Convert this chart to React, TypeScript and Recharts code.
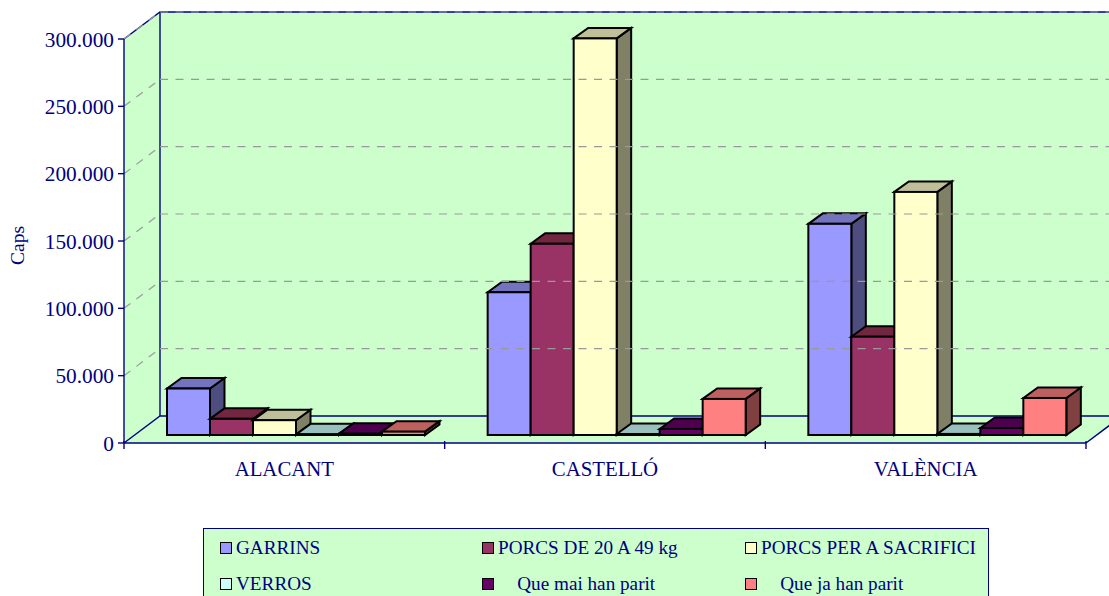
import React from 'react';
import { BarChart, Bar, XAxis, YAxis, Legend, ReferenceArea, ReferenceLine } from 'recharts';

const categories = ['ALACANT', 'CASTELLÓ', 'VALÈNCIA'];
const garrins = [34500, 106000, 156800];
const porcs2049 = [12000, 142000, 73000];
const sacrifici = [11000, 294500, 180500];
const verros = [500, 700, 800];
const queMai = [1000, 4500, 5200];
const queJa = [2500, 26800, 27500];
const yTicks = [0, 50000, 100000, 150000, 200000, 250000, 300000];

const seriesNames = ['GARRINS', 'PORCS DE 20 A 49 kg', 'PORCS PER A SACRIFICI', 'VERROS', '    Que mai han parit', '    Que ja han parit'];
const seriesValues = [garrins, porcs2049, sacrifici, verros, queMai, queJa];
const seriesColors = ['#9999FF', '#993366', '#FFFFCC', '#CCFFFF', '#660066', '#FF8080'];
const topColors = ['#7373BF', '#732640', '#BFBF99', '#99BFBF', '#4D004D', '#BF6060'];
const sideColors = ['#4D4D80', '#4D1A33', '#808066', '#668080', '#330033', '#804040'];

const data = categories.map((name, i) => {
  const row: Record<string, string | number> = { name };
  seriesNames.forEach((s, j) => { row[s] = seriesValues[j][i]; });
  return row;
});

const NAVY = '#000080';
const WALL = '#CCFFCC';
const FONT = '"Liberation Serif", "Times New Roman", serif';
const W = 1109, H = 596;
const WALL_DX = 36, WALL_DY = 27;
const BAR_DX = 14.5, BAR_DY = 10.5;
const SHIFT_X = 10.5, SHIFT_Y = 8;
const PLOT_LEFT = 124, PLOT_RIGHT = 1086;
const BAND = (PLOT_RIGHT - PLOT_LEFT) / categories.length;

function make3DBar(front: string, top: string, side: string) {
  return (p: any) => {
    const x = p.x + SHIFT_X, y = p.y - SHIFT_Y, w = p.width, h = p.height;
    return (
      <g stroke="#000" strokeWidth={2} strokeLinejoin="miter">
        <polygon fill={side} points={`${x + w},${y} ${x + w + BAR_DX},${y - BAR_DY} ${x + w + BAR_DX},${y + h - BAR_DY} ${x + w},${y + h}`} />
        <polygon fill={top} points={`${x},${y} ${x + BAR_DX},${y - BAR_DY} ${x + w + BAR_DX},${y - BAR_DY} ${x + w},${y}`} />
        <rect x={x} y={y} width={w} height={h} fill={front} />
      </g>
    );
  };
}

const Walls = (p: any) => {
  const { x, y, width, height } = p;
  const r = x + width, b = y + height;
  return (
    <g>
      <polygon fill={WALL} points={`${x + WALL_DX},${y - WALL_DY} ${r + WALL_DX},${y - WALL_DY} ${r + WALL_DX},${b - WALL_DY} ${x + WALL_DX},${b - WALL_DY}`} />
      <polygon fill={WALL} points={`${x},${y} ${x + WALL_DX},${y - WALL_DY} ${x + WALL_DX},${b - WALL_DY} ${x},${b}`} />
      <polygon fill={WALL} points={`${x},${b} ${x + WALL_DX},${b - WALL_DY} ${r + WALL_DX},${b - WALL_DY} ${r},${b}`} />
      <g stroke={NAVY} strokeWidth={1.4} fill="none">
        <path d={`M${x},${y} L${x + WALL_DX},${y - WALL_DY} L${r + WALL_DX},${y - WALL_DY}`} />
        <path d={`M${x + WALL_DX},${y - WALL_DY} L${x + WALL_DX},${b - WALL_DY}`} />
        <path d={`M${x},${b} L${x + WALL_DX},${b - WALL_DY} L${r + WALL_DX},${b - WALL_DY}`} />
        <path d={`M${r},${b} L${r + WALL_DX},${b - WALL_DY}`} />
      </g>
    </g>
  );
};

const GridShape = (p: any) => {
  const { x1, y1, x2 } = p;
  return (
    <g stroke="#999" strokeWidth={1.2} fill="none" strokeDasharray="8 7.5">
      <line x1={x1} y1={y1} x2={x1 + WALL_DX} y2={y1 - WALL_DY} />
      <line x1={x1 + WALL_DX} y1={y1 - WALL_DY} x2={x2 + WALL_DX} y2={y1 - WALL_DY} />
    </g>
  );
};

const CategoryTick = (p: any) => {
  const { x, y, payload, index } = p;
  return (
    <g>
      <line x1={x - BAND / 2} x2={x - BAND / 2} y1={y - 8} y2={y} stroke={NAVY} strokeWidth={1.4} />
      {index === categories.length - 1 && <line x1={x + BAND / 2} x2={x + BAND / 2} y1={y - 8} y2={y} stroke={NAVY} strokeWidth={1.4} />}
      <text x={x} y={y + 27} textAnchor="middle" fill={NAVY} fontSize={20.8} fontFamily={FONT}>{payload.value}</text>
    </g>
  );
};

const LEGEND_COLS = [16, 278, 541];
const LEGEND_ROWS = [3, 39];

const LegendBox = ({ payload }: any) => (
  <div style={{ position: 'relative', width: 786, height: 80, boxSizing: 'border-box', background: WALL, border: `1px solid ${NAVY}`, fontFamily: FONT, fontSize: 19.2, color: NAVY }}>
    {(payload || []).map((e: any, i: number) => (
      <div key={i} style={{ position: 'absolute', left: LEGEND_COLS[i % 3], top: LEGEND_ROWS[Math.floor(i / 3)], height: 32, display: 'flex', alignItems: 'center', whiteSpace: 'pre' }}>
        <span style={{ display: 'inline-block', width: 10, height: 10, boxSizing: 'content-box', border: '1.5px solid #000', background: e.color, marginRight: 4 }} />
        <span>{e.value}</span>
      </div>
    ))}
  </div>
);

const fmt = (v: number) => String(v).replace(/\B(?=(\d{3})+$)/g, '.');

export default function App() {
  return (
    <div style={{ position: 'absolute', left: 0, top: 0, width: W, height: H, overflow: 'hidden', background: '#fff' }}>
      <BarChart width={W} height={H} data={data} barGap={0} barCategoryGap={32.5}
        margin={{ top: 39, right: W - PLOT_RIGHT, bottom: 123, left: 0 }}>
        <XAxis dataKey="name" height={30} axisLine={{ stroke: NAVY, strokeWidth: 1.4 }} tickLine={false} tick={<CategoryTick />} interval={0} tickMargin={0} />
        <YAxis width={PLOT_LEFT} domain={[0, 300000]} ticks={yTicks} tickFormatter={fmt} interval={0}
          axisLine={{ stroke: NAVY, strokeWidth: 1.4 }} tickLine={{ stroke: NAVY, strokeWidth: 1.4 }} tickSize={6} tickMargin={4}
          tick={{ fill: NAVY, fontSize: 21.3, fontFamily: FONT }}
          label={{ value: 'Caps', angle: -90, position: 'insideLeft', fill: NAVY, fontSize: 19.5, fontFamily: FONT, dx: 12, dy: 24 }} />
        <ReferenceArea y1={0} y2={300000} ifOverflow="visible" shape={Walls} fill="none" stroke="none" />
        {yTicks.slice(1).map((t) => (
          <ReferenceLine key={t} y={t} ifOverflow="visible" shape={GridShape} />
        ))}
        {seriesNames.map((s, i) => (
          <Bar key={s} dataKey={s} name={s} fill={seriesColors[i]} isAnimationActive={false}
            shape={make3DBar(seriesColors[i], topColors[i], sideColors[i])} />
        ))}
        <Legend layout="horizontal" verticalAlign="middle" content={<LegendBox />} itemSorter={null}
          wrapperStyle={{ position: 'absolute', left: 203, top: 528, width: 786, height: 80, margin: 0 }} />
      </BarChart>
    </div>
  );
}
